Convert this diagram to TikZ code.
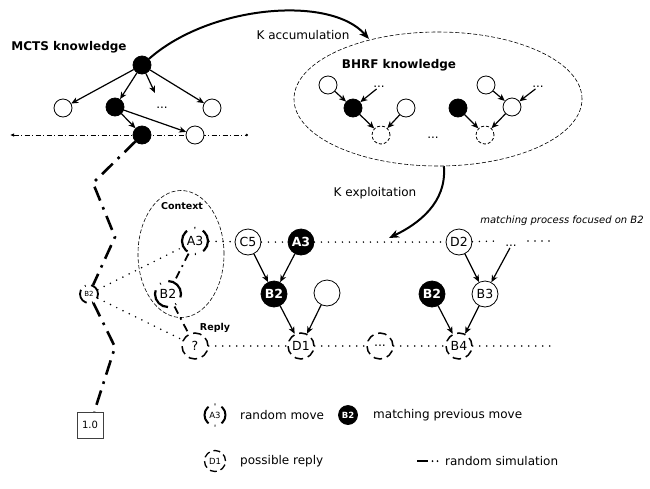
\documentclass[tikz,border=0pt]{standalone}
\usepackage{fontspec}
\setmainfont{DejaVu Sans}
\usetikzlibrary{arrows.meta,shapes.geometric}
\begin{document}
\begin{tikzpicture}[x=1pt,y=-1pt,
  every node/.style={font=\fontsize{12}{14}\selectfont},
  arr/.style={-{Stealth[length=7pt,width=6pt,inset=2pt]}, line width=1.2pt},
  bigarr/.style={-{Stealth[length=10pt,width=8pt,inset=3pt]}, line width=2pt},
  sw/.style={circle,draw,line width=0.8pt,fill=white,minimum size=18pt,inner sep=0pt},
  sbk/.style={sw,fill=black},
  sdash/.style={sw,dash pattern=on 3pt off 2pt},
  mw/.style={circle,draw,line width=0.8pt,fill=white,minimum size=26pt,inner sep=0pt,font=\fontsize{12.5}{14}\selectfont},
  mb/.style={mw,fill=black,text=white,font=\fontsize{12.5}{14}\selectfont\bfseries},
  rnd/.style={mw,line width=2.2pt,dash pattern=on 24pt off 8pt on 0.85pt off 8pt,dash phase=12pt},
  rep/.style={mw,line width=1.5pt,dash pattern=on 8.6pt off 5pt},
  dotl/.style={line width=1.7pt,line cap=round,dash pattern=on 0pt off 7pt},
  sim/.style={line width=2.6pt,dash pattern=on 15pt off 7pt on 2.6pt off 7pt},
  simthin/.style={line width=1.8pt,dash pattern=on 8pt off 5pt on 1.8pt off 5pt},
  dotsn/.style={inner sep=1pt},
  lbl/.style={font=\fontsize{9.5}{11}\selectfont\bfseries},
  ttl/.style={font=\fontsize{12}{14}\selectfont\bfseries},
  legtxt/.style={anchor=west,inner sep=0pt}
]
\useasboundingbox (0,0) rectangle (650,488);

% ---------- MCTS knowledge ----------
\node[ttl] (mctst) at (69,47) {MCTS knowledge};
\coordinate (hl) at (10,135);
\coordinate (hr) at (248,135);
\draw[line width=0.8pt,dash pattern=on 5pt off 2.5pt on 1pt off 2.5pt,
      {Latex[length=4pt,width=3.5pt]}-{Circle[length=2.5pt]}] (hl) -- (hr);
\node[sbk] (t) at (142,65) {};
\node[sw] (w1) at (63,108) {};
\node[sbk] (b1) at (115,107) {};
\node[dotsn] (md) at (162,108) {...};
\coordinate (me) at (155,93);
\node[sw] (w2) at (212,108) {};
\node[sbk] (b2) at (142,135) {};
\node[sw] (w3) at (195,135) {};
\draw[arr] (t) -- (w1);
\draw[arr] (t) -- (b1);
\draw[arr] (t) -- (me);
\draw[arr] (t) -- (w2);
\draw[arr] (b1) -- (b2);
\draw[arr] (b1) -- (w3);

% ---------- BHRF knowledge ----------
\node[ellipse,draw,line width=0.6pt,dash pattern=on 4pt off 2pt,minimum width=288pt,minimum height=134pt,inner sep=0pt] (bhrf) at (438,99) {};
\node[ttl] (bhrft) at (399,65) {BHRF knowledge};
\node[sw] (h1) at (328,85) {};
\node[dotsn] (hd1) at (379,87) {...};
\node[sbk] (h2) at (353,108) {};
\node[sw] (h3) at (406,108) {};
\node[sdash] (h4) at (381,135) {};
\node[dotsn] (hd2) at (433,138) {...};
\node[sw] (h5) at (486,85) {};
\node[dotsn] (hd3) at (538,87) {...};
\node[sbk] (h6) at (458,108) {};
\node[sw] (h7) at (512,107) {};
\node[sdash] (h8) at (485,135) {};
\draw[arr] (h1) -- (h2);
\draw[arr] (hd1) -- (h2);
\draw[arr] (h2) -- (h4);
\draw[arr] (h3) -- (h4);
\draw[arr] (h5) -- (h7);
\draw[arr] (hd3) -- (h7);
\draw[arr] (h6) -- (h8);
\draw[arr] (h7) -- (h8);

% ---------- K accumulation / exploitation ----------
\coordinate (ka) at (369,39);
\draw[bigarr] (t) .. controls (210,5) and (330,-5) .. (ka);
\node (kacc) at (303,35) {K accumulation};
\coordinate (kx) at (389,238);
\draw[bigarr] (bhrf.-85) .. controls (447,203) and (418,224) .. (kx);
\node (kexp) at (375,193) {K exploitation};

% ---------- context ----------
\node[ellipse,draw,line width=0.6pt,dash pattern=on 4pt off 2pt,minimum width=86pt,minimum height=127pt,inner sep=0pt] (ctx) at (181,254) {};
\node[lbl] (ctxt) at (182,206) {Context};
\node[lbl] (rept) at (215,328) {Reply};

% ---------- main rows ----------
\node[rnd] (ra) at (195,241) {A3};
\node[rnd,dash phase=4pt] (rb) at (168,294) {B2};
\node[rep] (rq) at (195,346) {?};
\node[circle,draw,fill=white,minimum size=18pt,inner sep=0pt,line width=1.8pt,dash pattern=on 16pt off 5.5pt on 0.8pt off 5.5pt,dash phase=4pt,font=\fontsize{7}{8}\selectfont] (sb2) at (89,294) {B2};
\node[mw] (c5) at (248,242) {C5};
\node[mb] (a3) at (301,242) {A3};
\node[mb] (b2m) at (274,294) {B2};
\node[mw] (wm) at (327,293) {};
\node[rep] (d1) at (301,346) {D1};
\node[mw] (d2) at (459,242) {D2};
\node[dotsn] (td) at (511,246) {...};
\coordinate (ta) at (497,241);
\coordinate (tb) at (528,241);
\coordinate (te) at (553,241);
\node[mb] (b2n) at (432,294) {B2};
\node[mw] (b3) at (485,294) {B3};
\node[rep] (b4) at (459,346) {B4};
\node[rep] (dd) at (380,346) {...};
\coordinate (be) at (550,346);
\node[font=\fontsize{10}{12}\selectfont\itshape] (mproc) at (562,221) {matching process focused on B2};

\draw[dotl] (ra) -- (c5);
\draw[dotl] (c5) -- (a3);
\draw[dotl] (a3) -- (d2);
\draw[dotl] (d2) -- (ta);
\draw[dotl] (tb) -- (te);
\draw[dotl] (rq) -- (d1);
\draw[dotl] (d1) -- (dd);
\draw[dotl] (dd) -- (b4);
\draw[dotl] (b4) -- (be);
\draw[dotl] (sb2) -- (ra);
\draw[dotl] (sb2) -- (rq);

\draw[arr] (c5) -- (b2m);
\draw[arr] (a3) -- (b2m);
\draw[arr] (b2m) -- (d1);
\draw[arr] (wm) -- (d1);
\draw[arr] (d2) -- (b3);
\draw[arr] (td) -- (b3);
\draw[arr] (b2n) -- (b4);
\draw[arr] (b3) -- (b4);

\draw[simthin] (ra) -- (rb);
\draw[simthin] (rb) -- (rq);

% ---------- random simulation ----------
\coordinate (p1) at (93,183);
\coordinate (p2) at (115,237);
\coordinate (p3) at (115,347);
\node[draw=black!75,line width=0.8pt,minimum size=26pt,inner sep=0pt,font=\fontsize{10}{12}\selectfont] (box) at (90,425) {1.0};
\draw[sim] (b2) -- (p1) -- (p2) -- (sb2);
\draw[sim] (sb2) -- (p3) -- (box);

% ---------- legend ----------
\node[rnd,minimum size=21pt,dash pattern=on 19pt off 6.5pt on 0.8pt off 6.5pt,dash phase=9.5pt,line width=2pt,font=\fontsize{8.5}{10}\selectfont] (la) at (215,415) {A3};
\node[legtxt] (lat) at (240,415) {random move};
\node[mb,minimum size=19pt,font=\fontsize{8.5}{10}\selectfont\bfseries] (lb) at (348,415) {B2};
\node[legtxt] (lbt) at (373,415) {matching previous move};
\node[rep,minimum size=21pt,dash pattern=on 7pt off 4pt,line width=1.3pt,font=\fontsize{8.5}{10}\selectfont] (ld) at (215,461) {D1};
\node[legtxt] (ldt) at (240,461) {possible reply};
\coordinate (l1) at (417,461);
\coordinate (l2) at (428,461);
\draw[line width=2.6pt] (l1) -- (l2);
\fill (432.5,461) circle (1pt);
\fill (437.5,461) circle (1pt);
\node[legtxt] (lst) at (445,461) {random simulation};
\end{tikzpicture}
\end{document}
